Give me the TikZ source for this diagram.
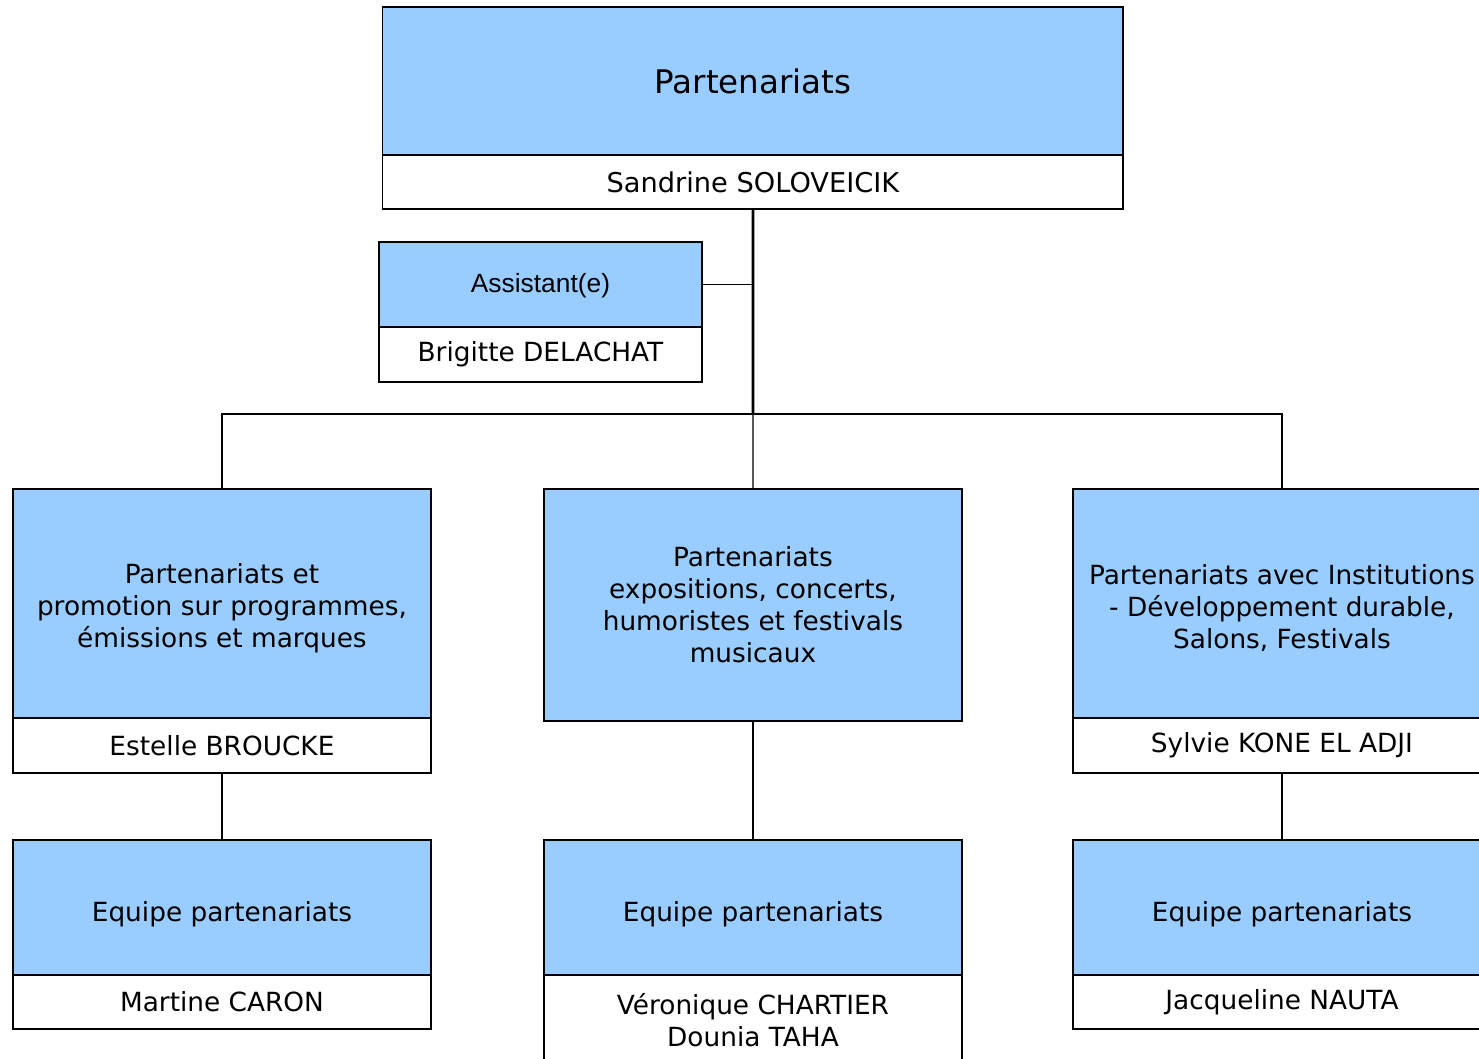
\documentclass[tikz,border=0pt]{standalone}
\usepackage{fontspec}
\setmainfont{DejaVu Sans}
\newfontfamily\arial{Liberation Sans}
\usepackage{tikz}
\usetikzlibrary{positioning}
\definecolor{bleuclair}{HTML}{99CCFF}

\begin{document}
\begin{tikzpicture}[x=0.02cm, y=-0.02cm,
    bleu/.style={draw=black, line width=1.1pt, fill=bleuclair, inner sep=0pt, outer sep=0pt, align=center, font=\fontsize{15}{18.2}\selectfont},
    nom/.style={draw=black, line width=1.1pt, fill=white, inner sep=0pt, outer sep=0pt, align=center, font=\fontsize{15}{18.2}\selectfont},
    equipe/.style={bleu, anchor=north west, minimum width=8.36cm, minimum height=2.70cm, text height=19pt},
    lien/.style={line width=0.8pt},
    epais/.style={line width=1.6pt}]
            \useasboundingbox (0,0) rectangle (1479,1058);
            \clip (0,0) rectangle (1479,1058);

            \node[bleu, anchor=north west, minimum width=14.82cm, minimum height=2.96cm, font=\fontsize{18.5}{22}\selectfont] (dir) at (382.5,7) {Partenariats};
            \node[nom, anchor=north, minimum width=14.82cm, minimum height=1.08cm, font=\fontsize{15.5}{18.2}\selectfont] (dir-nom) at (dir.south) {Sandrine SOLOVEICIK};

            \node[bleu, anchor=north west, minimum width=6.46cm, minimum height=1.70cm, font=\arial\fontsize{15}{18}\selectfont, text height=12pt] (assist) at (379,242) {Assistant(e)};
            \node[nom, anchor=north, minimum width=6.46cm, minimum height=1.10cm] (assist-nom) at (assist.south) {Brigitte DELACHAT};

            \coordinate (jonction) at (753,414);

            \node[bleu, anchor=north west, minimum width=8.36cm, minimum height=4.58cm] (pe) at (13,489) {\rule{0pt}{16.5pt}Partenariats et\\promotion sur programmes,\\émissions et marques};
            \node[nom, anchor=north, minimum width=8.36cm, minimum height=1.10cm] (pe-nom) at (pe.south) {Estelle BROUCKE};

            \node[bleu, anchor=north west, minimum width=8.36cm, minimum height=4.64cm] (pm) at (544,489) {Partenariats\\expositions, concerts,\\humoristes et festivals\\musicaux};

            \node[bleu, anchor=north west, minimum width=8.36cm, minimum height=4.58cm] (pi) at (1073,489) {\rule{0pt}{16.5pt}Partenariats avec Institutions\\- Développement durable,\\Salons, Festivals};
            \node[nom, anchor=north, minimum width=8.36cm, minimum height=1.10cm] (pi-nom) at (pi.south) {Sylvie KONE EL ADJI};

            \node[equipe] (eq1) at (13,840) {Equipe partenariats};
            \node[nom, anchor=north, minimum width=8.36cm, minimum height=1.08cm] (eq1-nom) at (eq1.south) {Martine CARON};

            \node[equipe] (eq2) at (544,840) {Equipe partenariats};
            \node[nom, anchor=north, minimum width=8.36cm, minimum height=1.80cm] (eq2-nom) at (eq2.south) {Véronique CHARTIER\\Dounia TAHA};

            \node[equipe] (eq3) at (1073,840) {Equipe partenariats};
            \node[nom, anchor=north, minimum width=8.36cm, minimum height=1.08cm] (eq3-nom) at (eq3.south) {Jacqueline NAUTA};

            \draw[epais] (dir-nom.south) -- (jonction);
            \draw[lien] (assist.east) -- (assist.east -| jonction);
            \draw[lien] (jonction) -| (pe.north);
            \draw[lien] (jonction) -| (pi.north);
            \draw[lien] (jonction) -- (pm.north);

            \draw[lien] (pe-nom.south) -- (eq1.north);
            \draw[lien] (pm.south) -- (eq2.north);
            \draw[lien] (pi-nom.south) -- (eq3.north);
        \end{tikzpicture}
\end{document}
